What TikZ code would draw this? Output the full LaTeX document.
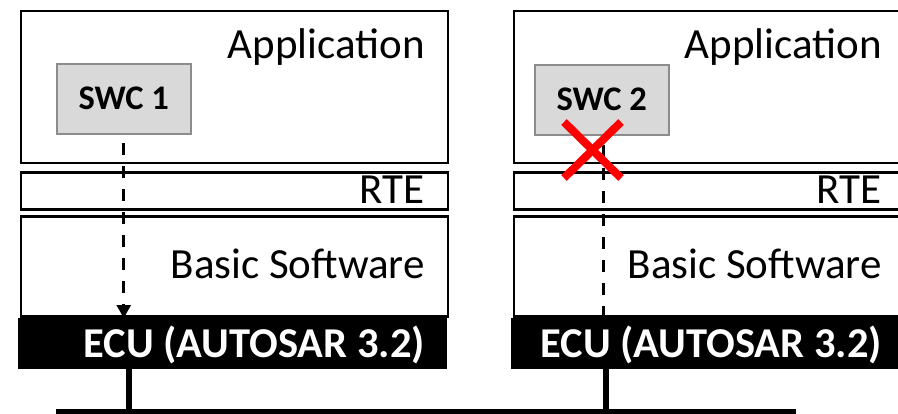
\documentclass[tikz,border=0pt]{standalone}
\usepackage{fontspec}
\setmainfont{Carlito}
\usetikzlibrary{arrows.meta}
\definecolor{swcfill}{HTML}{D9D9D9}
\definecolor{swcedge}{HTML}{8C8C8C}
\definecolor{crossred}{HTML}{FF0000}
\begin{document}
\begin{tikzpicture}[x=1pt,y=-1pt,
  layer/.style={draw=black, line width=2.5pt, fill=white, rectangle,
    inner sep=0pt, anchor=north west},
  ecubox/.style={fill=black, rectangle, inner sep=0pt, anchor=north west},
  swcbox/.style={draw=swcedge, fill=swcfill, line width=2.5pt, rectangle,
    inner sep=0pt, anchor=north west, minimum width=134pt, minimum height=70pt,
    font=\fontsize{34.5}{40}\selectfont\bfseries},
  lbl/.style={anchor=base east, inner sep=0pt, font=\fontsize{43}{50}\selectfont},
  ecult/.style={anchor=base east, inner sep=0pt, text=white,
    font=\fontsize{42.5}{50}\selectfont\bfseries},
  signal/.style={line width=2.8pt, dash pattern=on 12pt off 11pt},
  wire/.style={line width=6pt},
  bus/.style={line width=5pt},
  cross/.style={draw=crossred, line width=8pt}
]
\useasboundingbox (0,0) rectangle (898,413);
\clip (0,0) rectangle (898,413);

% ---- left ECU stack ----
\node[layer, minimum width=427pt, minimum height=152pt] (app1) at (19.5,9.5) {};
\node[layer, minimum width=427pt, minimum height=37pt] (rte1) at (19.5,171) {};
\node[layer, minimum width=427pt, minimum height=100pt] (bsw1) at (19.5,215) {};
\node[ecubox, minimum width=429pt, minimum height=51pt] (ecu1) at (18,318) {};
\node[lbl] (app1t) at (425,58) {Application};
\node[lbl] (rte1t) at (425,203) {RTE};
\node[lbl] (bsw1t) at (425,278) {Basic Software};
\node[ecult] (ecu1t) at (425,357) {ECU (AUTOSAR 3.2)};
\node[swcbox] (swc1) at (55.5,62.5) {SWC 1};

% ---- right ECU stack ----
\node[layer, minimum width=440pt, minimum height=152pt] (app2) at (512.5,9.5) {};
\node[layer, minimum width=440pt, minimum height=37pt] (rte2) at (512.5,171) {};
\node[layer, minimum width=440pt, minimum height=100pt] (bsw2) at (512.5,215) {};
\node[ecubox, minimum width=440pt, minimum height=51pt] (ecu2) at (511,318) {};
\node[lbl] (app2t) at (882,58) {Application};
\node[lbl] (rte2t) at (882,203) {RTE};
\node[lbl] (bsw2t) at (882,278) {Basic Software};
\node[ecult] (ecu2t) at (882,357) {ECU (AUTOSAR 3.2)};
\node[swcbox] (swc2) at (533.5,63.5) {SWC 2};

% ---- signal paths ----
\coordinate (s1) at ([yshift=-8pt]swc1.south);
\draw[signal, -{Triangle[width=14pt,length=13pt]}] (s1) -- (s1 |- ecu1.north);
\coordinate (s2) at ([xshift=2pt,yshift=-9pt]swc2.south);
\draw[signal] (s2) -- (s2 |- bsw2.south);

% blocked path
\coordinate (xc) at (592.5,150);
\draw[cross] ([shift={(-28.5,-28)}]xc) -- ([shift={(28.5,28)}]xc);
\draw[cross] ([shift={(28.5,-28)}]xc) -- ([shift={(-28.5,28)}]xc);

% ---- bus ----
\coordinate (busL) at (56,411);
\coordinate (busR) at (796,411);
\draw[bus] (busL) -- (busR);
\coordinate (w1) at (129,369);
\coordinate (w2) at (606,369);
\draw[wire] (w1) -- (w1 |- busL);
\draw[wire] (w2) -- (w2 |- busL);
\end{tikzpicture}
\end{document}
